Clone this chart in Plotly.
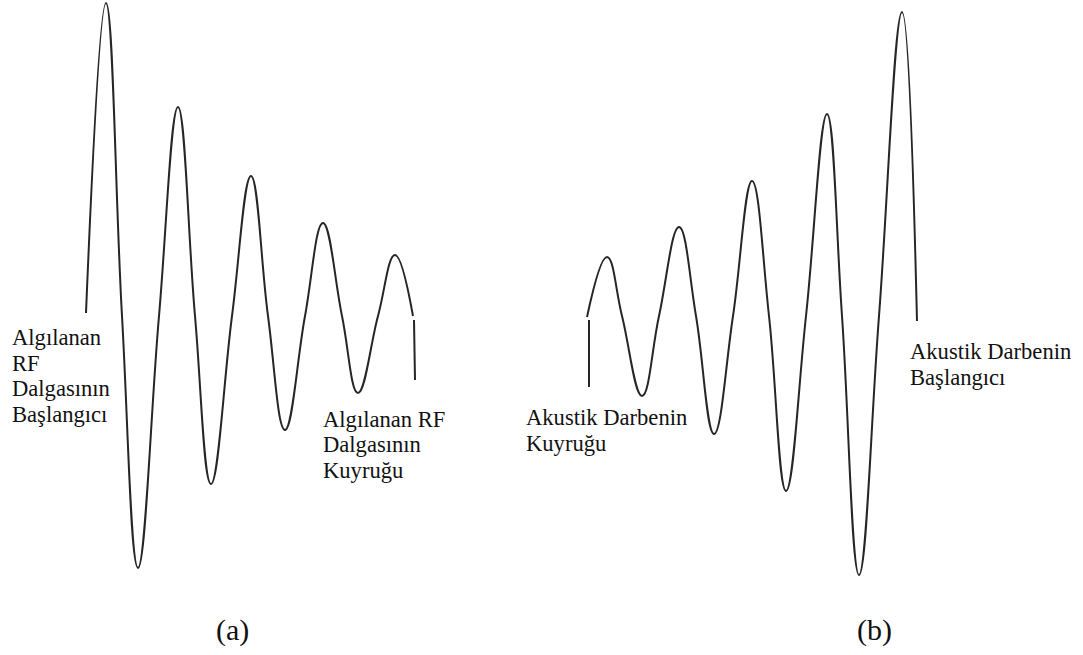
import plotly.graph_objects as go

W, H = 1083, 655
BASE = 316  # baseline row used for amplitude scale

# (a) received RF wave: time samples and amplitudes (extrema and zero crossings)
a_time = [86, 106, 122, 138, 159, 178, 195, 211, 232, 251, 268, 285, 305, 323, 342, 358, 378, 395, 413]
a_amp = [3, 313, 0, -252, 0, 209, 0, -168, 0, 140, 0, -114, 0, 93, 0, -77, 0, 61, 0]
a_tail_time = [414, 415]
a_tail_amp = [-4, -64]

# (b) acoustic pulse: time samples and amplitudes
b_time = [587, 607, 622, 642, 659, 679, 696, 714, 733, 752, 769, 786, 806, 827, 842, 859, 879, 902, 917]
b_amp = [-1, 59, 0, -80, 0, 89, 0, -118, 0, 135, 0, -175, 0, 202, 0, -259, 0, 304, -5]
b_tail_time = [589, 589]
b_tail_amp = [-4, -71]

LINE = dict(color="#262626", width=2)

fig = go.Figure()
fig.add_trace(go.Scatter(x=a_time, y=a_amp, mode="lines", cliponaxis=False,
                         line=dict(**LINE, shape="spline", smoothing=1.2), hoverinfo="skip"))
fig.add_trace(go.Scatter(x=a_tail_time, y=a_tail_amp, mode="lines", line=LINE, hoverinfo="skip"))
fig.add_trace(go.Scatter(x=b_time, y=b_amp, mode="lines", cliponaxis=False,
                         line=dict(**LINE, shape="spline", smoothing=1.2), hoverinfo="skip"))
fig.add_trace(go.Scatter(x=b_tail_time, y=b_tail_amp, mode="lines", line=LINE, hoverinfo="skip"))

FONT = "Liberation Serif"
labels = [
    (["Algılanan", "RF", "Dalgasının", "Başlangıcı"], 10, 337.6),
    (["Algılanan RF", "Dalgasının", "Kuyruğu"], 320.5, 419.0),
    (["Akustik Darbenin", "Kuyruğu"], 523.5, 417.6),
    (["Akustik Darbenin", "Başlangıcı"], 907.5, 351.6),
]
ann = []
for lines, x0, y0 in labels:
    for i, t in enumerate(lines):
        ann.append(dict(text=t, x=x0 / W, y=1 - (y0 + i * 25.5) / H,
                        xref="paper", yref="paper",
                        xanchor="left", yanchor="middle", showarrow=False,
                        font=dict(family=FONT, size=22.6, color="#111111")))
for t, xc in [("(a)", 232), ("(b)", 874)]:
    ann.append(dict(text=t, x=xc / W, y=1 - 630.0 / H, xref="paper", yref="paper",
                    xanchor="center", yanchor="middle", showarrow=False,
                    font=dict(family=FONT, size=30, color="#111111")))

fig.update_layout(
    width=W, height=H, margin=dict(l=0, r=0, t=0, b=0),
    paper_bgcolor="white", plot_bgcolor="white", showlegend=False,
    font=dict(family=FONT),
    xaxis=dict(range=[0, W], visible=False, fixedrange=True),
    yaxis=dict(range=[BASE - H, BASE], visible=False, fixedrange=True),
    annotations=ann,
)
fig.write_html("out.html", config={"displayModeBar": False},
               post_script="document.body.style.margin='0px';")
